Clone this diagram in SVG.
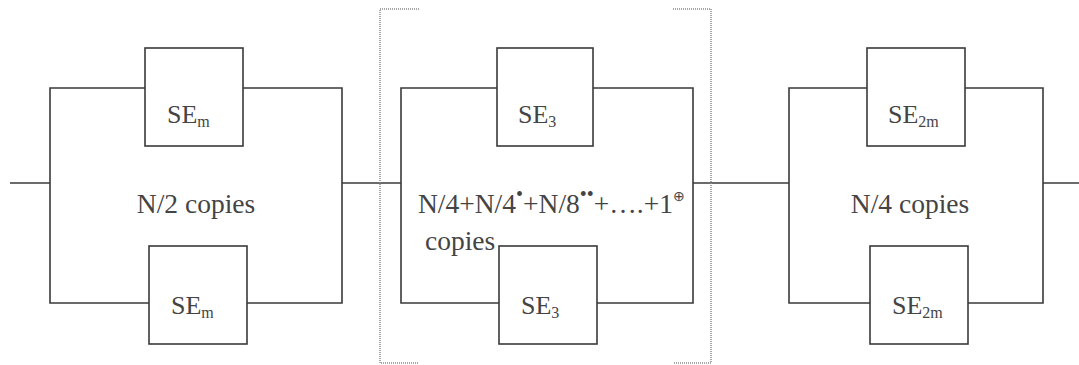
<svg xmlns="http://www.w3.org/2000/svg" width="1079" height="365" viewBox="0 0 1079 365">
<style>
  .ln { fill: none; stroke: #3a3a3a; stroke-width: 1.6; }
  .box { fill: #ffffff; stroke: #3a3a3a; stroke-width: 1.6; }
  .dot { fill: none; stroke: #8a8a8a; stroke-width: 1.5; stroke-dasharray: 1 1; }
  .t { font-family: "Liberation Serif", "Times New Roman", serif; font-size: 26px; fill: #444444; }
  .big { font-size: 27.5px; }
  .sub { font-size: 16px; }
  .sup { font-size: 20px; }
  .sup2 { font-size: 14px; }
</style>
<rect width="1079" height="365" fill="#ffffff"/>
<g id="connectors">
  <line class="ln" x1="10" y1="183" x2="50" y2="183"/>
  <line class="ln" x1="342" y1="183" x2="401" y2="183"/>
  <line class="ln" x1="693" y1="183" x2="789" y2="183"/>
  <line class="ln" x1="1043" y1="183" x2="1079" y2="183"/>
  <path class="ln" d="M145 88 H50 V303 H149 M243 88 H342 V303 H247"/>
  <path class="ln" d="M497 88 H401 V303 H499 M593 88 H693 V303 H597"/>
  <path class="ln" d="M867 88 H789 V303 H870 M965 88 H1043 V303 H968"/>
</g>
<g id="bracket">
  <path class="dot" d="M419 9 H380 V363 H419"/>
  <path class="dot" d="M673 9 H711 V363 H673"/>
</g>
<g id="group-left">
  <g id="se-m-top"><rect class="box" x="145" y="48" width="98" height="98"/><text class="t" x="167" y="123">SE<tspan class="sub" dy="4">m</tspan></text></g>
  <g id="se-m-bottom"><rect class="box" x="149" y="246" width="98" height="98"/><text class="t" x="171" y="314">SE<tspan class="sub" dy="4">m</tspan></text></g>
  <text class="t big" x="196" y="213" text-anchor="middle">N/2 copies</text>
</g>
<g id="group-middle">
  <g id="se-3-top"><rect class="box" x="497" y="48" width="96" height="98"/><text class="t" x="518" y="123">SE<tspan class="sub" dy="4">3</tspan></text></g>
  <g id="se-3-bottom"><rect class="box" x="499" y="246" width="98" height="98"/><text class="t" x="521" y="314">SE<tspan class="sub" dy="4">3</tspan></text></g>
  <text class="t big" x="418" y="213">N/4+N/4<tspan class="sup" dy="-12">•</tspan><tspan dy="12">+N/8</tspan><tspan class="sup" dy="-12">••</tspan><tspan dy="12">+….+1</tspan><tspan class="sup2" dy="-12">⊕</tspan></text>
  <text class="t big" x="425" y="250">copies</text>
</g>
<g id="group-right">
  <g id="se-2m-top"><rect class="box" x="867" y="48" width="98" height="98"/><text class="t" x="888" y="123">SE<tspan class="sub" dy="4">2m</tspan></text></g>
  <g id="se-2m-bottom"><rect class="box" x="870" y="246" width="98" height="98"/><text class="t" x="892" y="314">SE<tspan class="sub" dy="4">2m</tspan></text></g>
  <text class="t big" x="910" y="213" text-anchor="middle">N/4 copies</text>
</g>
</svg>
